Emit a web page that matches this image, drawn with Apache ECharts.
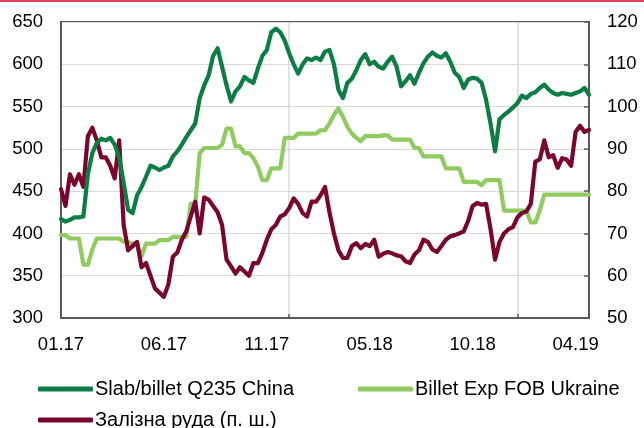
<!DOCTYPE html>
<html>
<head>
<meta charset="utf-8">
<script src="https://cdn.jsdelivr.net/npm/echarts@6/dist/echarts.min.js"></script>
<style>
html,body{margin:0;padding:0;background:#fff;}
#chart{width:644px;height:428px;}
</style>
</head>
<body>
<div id="chart"></div>
<script>
// weekly observations, Jan 2017 .. Apr 2019
const tickLabels = ['01.17','06.17','11.17','05.18','10.18','04.19'];
const seriesNames = ['Slab/billet Q235 China','Billet Exp FOB Ukraine','Залізна руда (п. ш.)'];

const slabChina = [
417,414,416,419,419,420,470,495,507,512,
510,513,505,490,460,428,424,445,455,467,
480,478,475,478,480,491,497,505,514,522,
530,560,575,587,610,619,597,575,556,568,
574,585,581,578,595,610,617,638,642,638,
628,613,600,589,600,607,605,608,605,615,
617,600,570,560,578,583,593,605,612,600,
603,597,595,603,609,597,574,580,587,577,
590,601,609,614,610,608,613,603,590,585,
572,582,584,583,578,558,530,497,535,540,
544,549,554,563,560,565,567,572,576,570,
566,564,566,565,564,566,568,572,564
];

const billetUkraine = [
398,398,394,394,394,363,363,381,394,394,
394,394,394,394,390,390,388,388,373,388,
388,388,392,392,392,396,396,396,396,435,
435,495,501,501,501,501,505,524,524,503,
503,495,495,489,479,463,463,477,477,477,
513,513,513,518,518,518,518,518,522,522,
530,540,548,538,526,518,513,509,515,515,
515,515,516,516,511,511,511,511,511,501,
501,491,491,491,491,491,477,477,477,477,
461,461,461,461,457,463,463,463,463,427,
427,427,427,427,427,413,413,427,446,446,
446,446,446,446,446,446,446,446,446
];

const ironOre = [
80.5,76.5,84,81.5,84,81,93,95,92,88,
88,86,83,92,72,66,67,68,62,63,
60,57,56,55,58,64.5,65.5,68.5,70.5,74,
77.5,70,78.5,78,76.5,75,72,63.8,62.2,60.5,
62,61,60,63,63,65.4,68.5,71,72,74,
74.5,76,78.3,77,74.8,74,77.5,77.5,79,81,
75,70,66,64.2,64.2,67,67.7,66.5,67.5,67,
68.5,64.5,65.2,65.6,65.3,64.8,64.6,63.4,63,65,
66,68.5,68,66.2,65.6,67,68.5,69.3,69.6,70,
70.5,73,76.5,77.2,76.8,77,71,63.8,68,70,
71,71.5,73.8,74.8,75.2,77,87,87.5,92,88,
88.5,85.5,87.8,87.5,86,94,95.5,94,94.5
];

const categories = slabChina.map((_, i) => i);
const labelStep = 23;
const yearGridIdx = [51, 102];

const colors = ['#0b7d45', '#8fcb5f', '#7a0630'];
const axisColor = '#595959';
const gridColor = '#d9d9d9';
const font = '"Liberation Sans", Arial, sans-serif';

const chart = echarts.init(document.getElementById('chart'), null, {renderer: 'canvas'});

function lineSeries(name, data, color, yIdx, z) {
  return {
    name: name, type: 'line', data: data, yAxisIndex: yIdx,
    showSymbol: false, symbol: 'none', smooth: false, z: z,
    lineStyle: {color: color, width: 4.2, cap: 'round', join: 'round'},
    itemStyle: {color: color},
    emphasis: {disabled: true}
  };
}

function legendAt(name, left, top) {
  return {
    data: [name], left: left, top: top, orient: 'horizontal',
    icon: 'roundRect', itemWidth: 55, itemHeight: 5, itemGap: 0,
    textStyle: {fontFamily: font, fontSize: 20, color: '#000', padding: [0,0,0,-3]},
    selectedMode: false
  };
}

chart.setOption({
  animation: false,
  backgroundColor: '#fff',
  color: colors,
  graphic: [{type: 'rect', left: 0, top: 0, shape: {width: 644, height: 2}, style: {fill: '#e2445e'}}],
  grid: {left: 61, right: 55, top: 22, bottom: 110, show: true, borderColor: axisColor, borderWidth: 2, backgroundColor: 'transparent', containLabel: false},
  legend: [
    legendAt(seriesNames[0], 33, 374),
    legendAt(seriesNames[1], 353, 374),
    legendAt(seriesNames[2], 33, 405)
  ],
  xAxis: {
    type: 'category', data: categories, boundaryGap: false,
    axisLine: {show: true, lineStyle: {color: axisColor, width: 2}},
    axisTick: {show: true, inside: true, length: 4, lineStyle: {color: axisColor, width: 1.5},
      interval: (i) => yearGridIdx.indexOf(i) >= 0},
    splitLine: {show: true, lineStyle: {color: gridColor, width: 1.5},
      interval: (i) => yearGridIdx.indexOf(i) >= 0},
    axisLabel: {interval: (i) => i % labelStep === 0, margin: 17, fontFamily: font, fontSize: 18.5, color: '#000',
      formatter: (v, i) => (tickLabels[Math.round(i / labelStep)] || ''),
      hideOverlap: false}
  },
  yAxis: [
    {type: 'value', min: 300, max: 650, interval: 50, position: 'left',
     axisLine: {show: true, lineStyle: {color: axisColor, width: 2}},
     axisTick: {show: false},
     splitLine: {show: true, lineStyle: {color: gridColor, width: 1.2}},
     axisLabel: {margin: 18, fontFamily: font, fontSize: 18.5, color: '#000'}},
    {type: 'value', min: 50, max: 120, interval: 10, position: 'right',
     axisLine: {show: true, lineStyle: {color: axisColor, width: 2}},
     axisTick: {show: true, inside: true, length: 5, lineStyle: {color: axisColor, width: 1.5}},
     splitLine: {show: false},
     axisLabel: {margin: 18, fontFamily: font, fontSize: 18.5, color: '#000'}}
  ],
  series: [
    lineSeries(seriesNames[1], billetUkraine, colors[1], 0, 2),
    lineSeries(seriesNames[2], ironOre, colors[2], 1, 3),
    lineSeries(seriesNames[0], slabChina, colors[0], 0, 4)
  ]
});
</script>
</body>
</html>
